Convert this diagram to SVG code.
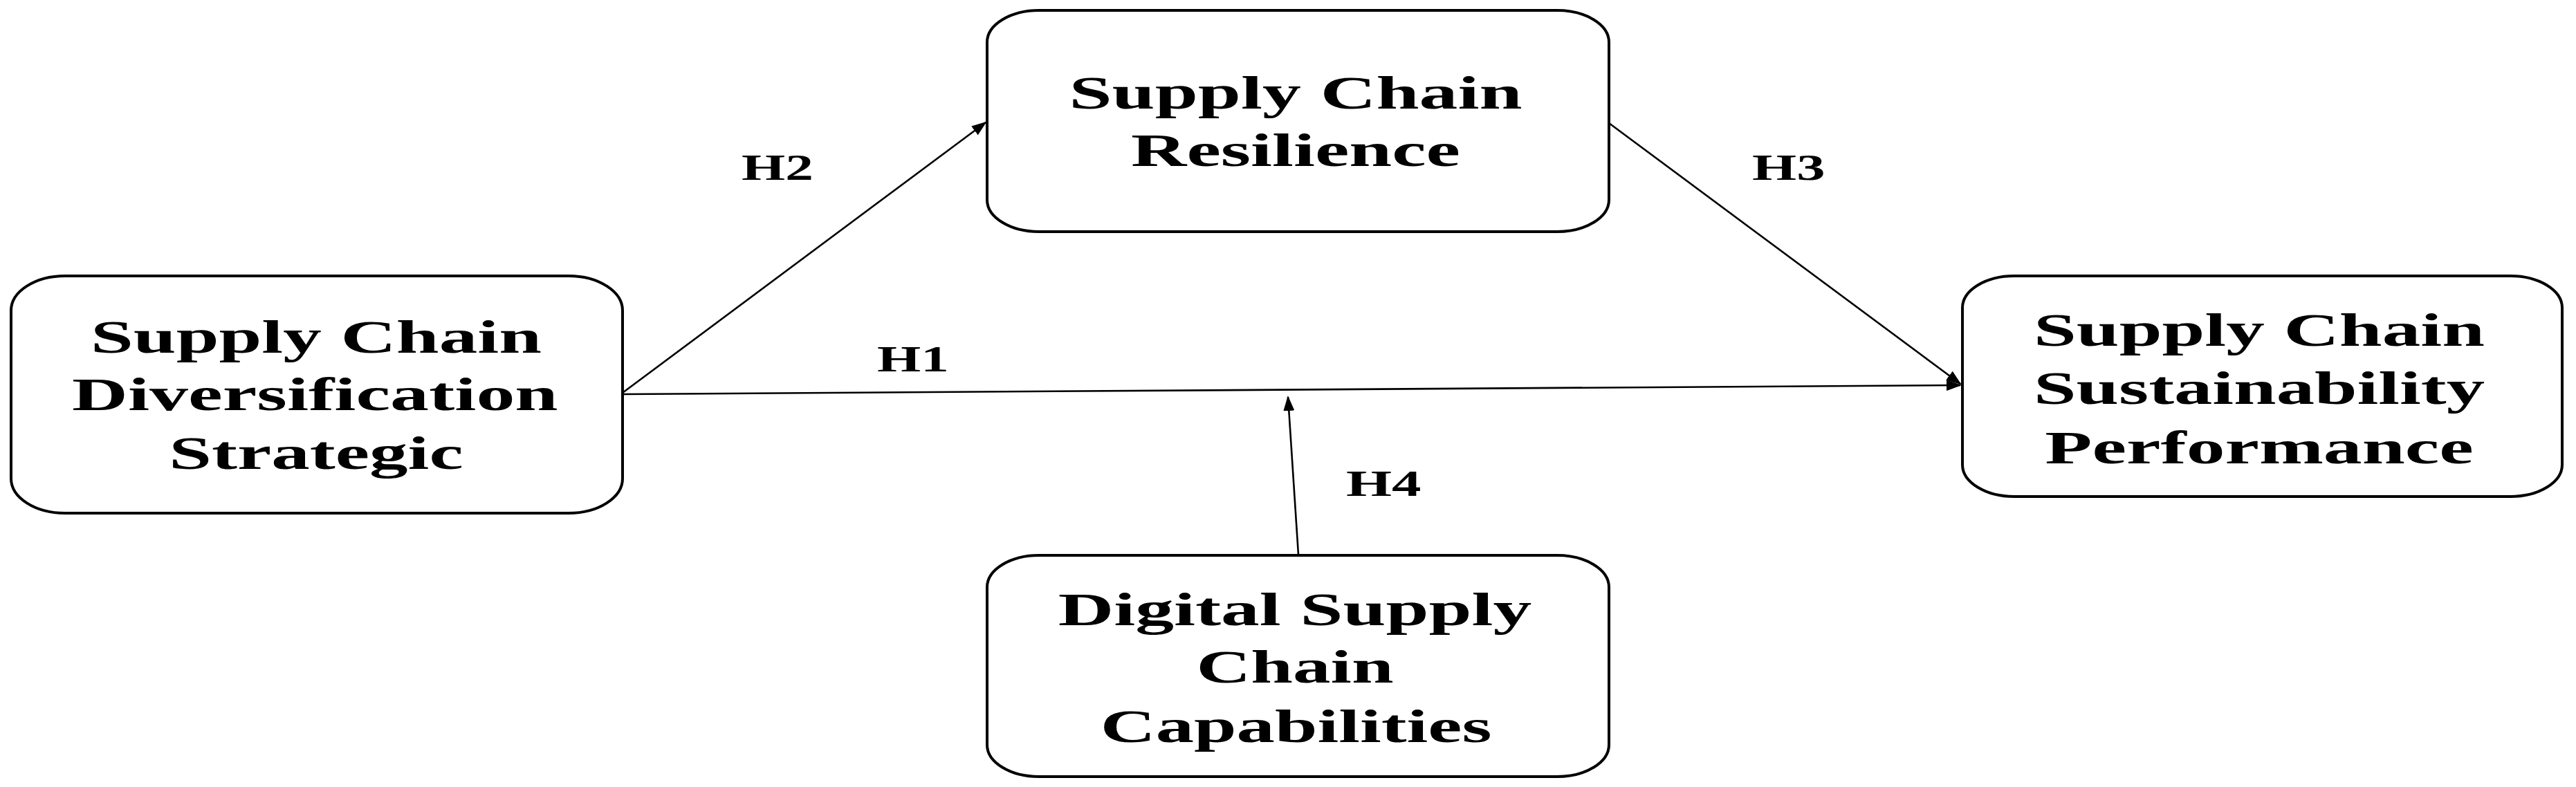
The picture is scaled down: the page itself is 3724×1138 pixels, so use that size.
<svg xmlns="http://www.w3.org/2000/svg" width="3724" height="1138" viewBox="0 0 3724 1138">
<style>
.box{fill:#fff;stroke:#000;stroke-width:4}
.t{font-family:"Liberation Serif","Times New Roman",serif;font-weight:bold;font-size:68px;fill:#000;text-anchor:middle}
.lbl{font-family:"Liberation Serif","Times New Roman",serif;font-weight:bold;font-size:53px;fill:#000}
.con{stroke:#000;stroke-width:2.6;fill:none;marker-end:url(#ah)}
</style>
<defs>
<marker id="ah" markerUnits="userSpaceOnUse" markerWidth="22" markerHeight="16" refX="20" refY="8" orient="auto">
<path d="M0,0 L22,8 L0,16 Z" fill="#000"/>
</marker>
</defs>
<rect width="3724" height="1138" fill="#fff"/>
<g id="connectors">
<line class="con" x1="900" y1="570" x2="2834" y2="557"/>
<line class="con" x1="900" y1="568" x2="1425" y2="177"/>
<line class="con" x1="2326" y1="178" x2="2834" y2="555"/>
<line class="con" x1="1877" y1="802" x2="1862" y2="574"/>
<g transform="translate(1072,0) scale(1.55,1)"><text class="lbl" x="0" y="260" textLength="67" lengthAdjust="spacingAndGlyphs">H2</text></g>
<g transform="translate(1268,0) scale(1.55,1)"><text class="lbl" x="0" y="537" textLength="67" lengthAdjust="spacingAndGlyphs">H1</text></g>
<g transform="translate(2533,0) scale(1.55,1)"><text class="lbl" x="0" y="260" textLength="68" lengthAdjust="spacingAndGlyphs">H3</text></g>
<g transform="translate(1946,0) scale(1.55,1)"><text class="lbl" x="0" y="717" textLength="70" lengthAdjust="spacingAndGlyphs">H4</text></g>
</g>
<g id="node-diversification">
<rect class="box" x="16" y="399" width="884" height="343" rx="78" ry="50"/>
<g transform="translate(457,0) scale(1.63,1)">
<text class="t" x="0" y="510" textLength="400" lengthAdjust="spacingAndGlyphs">Supply Chain</text>
<text class="t" x="-1" y="593" textLength="431" lengthAdjust="spacingAndGlyphs">Diversification</text>
<text class="t" x="0" y="678" textLength="261" lengthAdjust="spacingAndGlyphs">Strategic</text>
</g>
</g>
<g id="node-resilience">
<rect class="box" x="1427" y="15" width="899" height="320" rx="75" ry="46"/>
<g transform="translate(1873,0) scale(1.63,1)">
<text class="t" x="0" y="157" textLength="402" lengthAdjust="spacingAndGlyphs">Supply Chain</text>
<text class="t" x="0" y="240" textLength="292" lengthAdjust="spacingAndGlyphs">Resilience</text>
</g>
</g>
<g id="node-sustainability">
<rect class="box" x="2837" y="399" width="867" height="319" rx="75" ry="46"/>
<g transform="translate(3266,0) scale(1.63,1)">
<text class="t" x="0" y="500" textLength="400" lengthAdjust="spacingAndGlyphs">Supply Chain</text>
<text class="t" x="0" y="584" textLength="400" lengthAdjust="spacingAndGlyphs">Sustainability</text>
<text class="t" x="0" y="670" textLength="380" lengthAdjust="spacingAndGlyphs">Performance</text>
</g>
</g>
<g id="node-digital">
<rect class="box" x="1427" y="803" width="899" height="320" rx="75" ry="46"/>
<g transform="translate(1872,0) scale(1.63,1)">
<text class="t" x="0" y="904" textLength="420" lengthAdjust="spacingAndGlyphs">Digital Supply</text>
<text class="t" x="0" y="987" textLength="175" lengthAdjust="spacingAndGlyphs">Chain</text>
<text class="t" x="1" y="1073" textLength="347" lengthAdjust="spacingAndGlyphs">Capabilities</text>
</g>
</g>
</svg>
